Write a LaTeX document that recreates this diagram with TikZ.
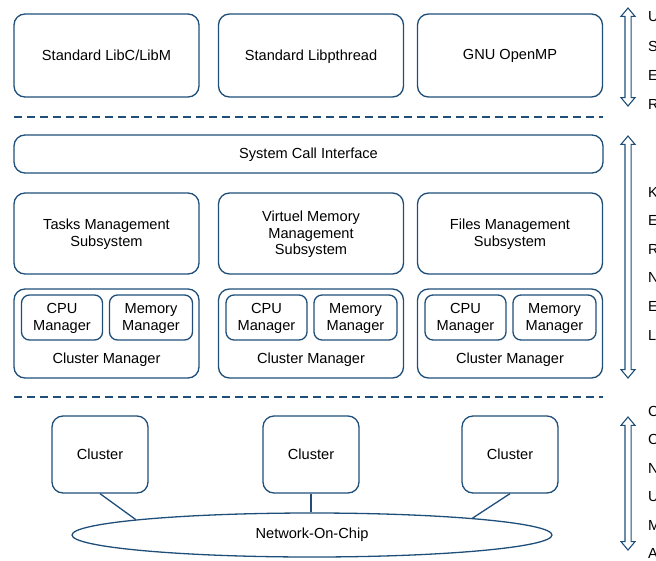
\documentclass[tikz,border=0pt]{standalone}
\usepackage{fontspec}
\setmainfont{Liberation Sans}
\usetikzlibrary{shapes.geometric,shapes.arrows}
\definecolor{navy}{RGB}{31,78,121}
\newcommand{\lbl}{\fontsize{14.6}{16.8}\selectfont}

\begin{document}
\begin{tikzpicture}[x=1pt,y=-1pt,
    box/.style={draw=navy, line width=1.3pt, rounded corners=11pt, align=center,
        font=\lbl, inner sep=0pt, text depth=1.5pt},
    sub/.style={box, rounded corners=8pt},
    sep/.style={navy, line width=1.1pt, dash pattern=on 8pt off 5pt},
    link/.style={navy, line width=1.3pt},
    span/.style={double arrow, draw=navy, fill=white, line width=1.1pt, rotate=90,
        inner sep=2.5pt, double arrow head extend=4pt, double arrow tip angle=80},
    tag/.style={anchor=west, font=\lbl, inner sep=0pt}]
    \useasboundingbox (0,0) rectangle (656,560);
    \clip (0,0) rectangle (656,560);

    % user level libraries
    \node[box, minimum width=185pt, minimum height=83pt] (libc) at (106.5,55.5) {Standard LibC/LibM};
    \node[box, minimum width=185pt, minimum height=83pt] (pthread) at (311,55.5) {Standard Libpthread};
    \node[box, minimum width=185pt, minimum height=83pt] (omp) at (510,55.5) {GNU OpenMP};
    \draw[sep] (14,117) -- (603,117);

    % kernel
    \node[box, minimum width=589pt, minimum height=38pt] (sci) at (308.5,154) {System Call Interface};
    \node[box, minimum width=185pt, minimum height=81pt] (tasks) at (106.5,233.5) {Tasks Management\\Subsystem};
    \node[box, minimum width=185pt, minimum height=81pt] (vmem) at (311,233.5) {Virtuel Memory\\Management\\Subsystem};
    \node[box, minimum width=185pt, minimum height=81pt] (files) at (510,233.5) {Files Management\\Subsystem};
    \foreach \x [count=\k] in {106.5,311,510} {
        \node[box, minimum width=185pt, minimum height=89pt] (clmgr\k) at (\x,333.5) {};
        \node[sub, minimum width=81pt, minimum height=45pt] (cpu\k) at (\x-44.5,317.5) {CPU\\Manager};
        \node[sub, minimum width=83pt, minimum height=45pt] (mem\k) at (\x+44.5,317.5) {Memory\\Manager};
        \node[font=\lbl] (cltxt\k) at (\x,359.5) {Cluster Manager};
    }
    \draw[sep] (14,397) -- (603,397);

    % hardware
    \node[ellipse, draw=navy, line width=1.3pt, minimum width=480pt, minimum height=44pt,
        inner sep=0pt, font=\lbl] (noc) at (312,535) {Network-On-Chip};
    \node[box, minimum width=96pt, minimum height=77pt] (cl1) at (100,454.5) {Cluster};
    \node[box, minimum width=96pt, minimum height=77pt] (cl2) at (311,454.5) {Cluster};
    \node[box, minimum width=96pt, minimum height=77pt] (cl3) at (510,454.5) {Cluster};
    \draw[link] (cl1.south) -- (noc.175.2);
    \draw[link] (cl2.south) -- (noc.north -| cl2.south);
    \draw[link] (cl3.south) -- (noc.6.3);

    % level markers
    \node[span, minimum height=98pt] (aruser) at (628,57) {};
    \node[span, minimum height=242pt] (arkern) at (628,257) {};
    \node[span, minimum height=133pt] (arhw) at (628,483.5) {};
    \foreach \c [count=\i from 0] in {U,S,E,R}
        \node[tag] (u\i) at (648,17+29*\i) {\c};
    \foreach \c [count=\i from 0] in {K,E,R,N,E,L}
        \node[tag] (k\i) at (648,192+28.6*\i) {\c};
    \foreach \c [count=\i from 0] in {C,C,N,U,M,A}
        \node[tag] (h\i) at (648,411+28.5*\i) {\c};
\end{tikzpicture}
\end{document}
